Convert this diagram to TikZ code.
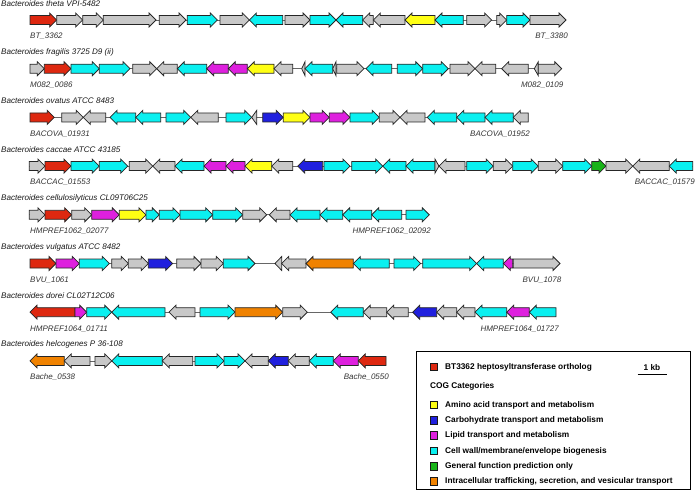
\documentclass[tikz,border=0pt]{standalone}
\usepackage{fontspec}
\setmainfont{Liberation Sans}
\definecolor{genered}{RGB}{222,40,16}
\definecolor{genegray}{RGB}{200,200,200}
\definecolor{genecyan}{RGB}{10,240,240}
\definecolor{geneyellow}{RGB}{255,255,20}
\definecolor{genemag}{RGB}{222,32,222}
\definecolor{geneblue}{RGB}{32,32,222}
\definecolor{genegreen}{RGB}{24,180,24}
\definecolor{geneorange}{RGB}{240,130,0}
% one gene arrow: row y, tail x, tip x, fill
\newcommand{\gene}[4]{%
  \pgfmathsetmacro{\gdir}{sign(#3-#2)}%
  \pgfmathsetmacro{\gneck}{#3-\gdir*min(7,abs(#3-#2))}%
  \filldraw[genebox, fill=#4] ({#2},{#1-4.5}) -- (\gneck,{#1-4.5}) -- (\gneck,{#1-7})
    -- ({#3},{#1}) -- (\gneck,{#1+7}) -- (\gneck,{#1+4.5}) -- ({#2},{#1+4.5}) -- cycle;}

\begin{document}
\begin{tikzpicture}[x=1pt, y=-1pt, font=\fontsize{8}{9.5}\selectfont,
    genebox/.style={draw=black!85, line join=miter, line width=0.75},
    spine/.style={draw=black!60, line width=0.7},
    strain/.style={anchor=west, inner sep=0, font=\fontsize{8.1}{9.5}\selectfont\itshape, text=black!90},
    locus/.style={inner sep=0, font=\fontsize{8}{9.5}\selectfont\itshape, text=black!80},
    keybox/.style={draw=black!90, line width=0.75, minimum size=7.5, inner sep=0},
    keytext/.style={anchor=west, inner sep=0, font=\fontsize{8.3}{9.5}\selectfont\bfseries}]
\useasboundingbox (0,0) rectangle (696,493);

% backbones
\coordinate (s1) at (30,20);    \coordinate (e1) at (566,20);
\coordinate (s2) at (30,68.7);  \coordinate (e2) at (561.7,68.7);
\coordinate (s3) at (30,117.4); \coordinate (e3) at (528.3,117.4);
\coordinate (s4) at (29.3,166.1); \coordinate (e4) at (692.7,166.1);
\coordinate (s5) at (29.3,214.8); \coordinate (e5) at (429.3,214.8);
\coordinate (s6) at (30,263.5); \coordinate (e6) at (560,263.5);
\coordinate (s7) at (30,312.2); \coordinate (e7) at (556,312.2);
\coordinate (s8) at (30,360.9); \coordinate (e8) at (386,360.9);
\foreach \i in {1,...,8} \draw[spine] (s\i) -- (e\i);

% B. theta
\node[strain] (t1) at (1,3.5) {Bacteroides theta VPI-5482};
\foreach \a/\b/\c in {30/56.7/genered, 56.7/82.7/genegray, 82.7/103.3/genegray, 103.3/156/genegray,
    159.3/186/genegray, 187.3/217.3/genecyan, 220/249.3/genegray, 282.7/249.3/genecyan, 285/310/genegray,
    310/336/genecyan, 362.7/336/genecyan, 373.3/362.7/genegray, 405/373.3/genegray, 435/405/geneyellow,
    463.3/435/genecyan, 466.7/491.7/genegray, 496.7/506.7/genegray, 506.7/530/genecyan, 530/566/genegray}
  \gene{20}{\a}{\b}{\c};
\node[locus, anchor=west] (a1) at (30,36.5) {BT\_3362};
\node[locus, anchor=east] (b1) at (568,36.5) {BT\_3380};

% B. fragilis
\node[strain] (t2) at (1,52.2) {Bacteroides fragilis 3725 D9 (ii)};
\foreach \a/\b/\c in {30/44.3/genegray, 44.3/71/genered, 71/99.3/genecyan, 99.3/130/genecyan,
    132.7/156.7/genegray, 177.3/156.7/genegray, 206.7/177.3/genecyan, 228.3/206.7/genemag,
    247.3/228.3/genemag, 274/247.3/geneyellow, 292.7/274/genegray, 305/301.7/genegray,
    332.7/305/genecyan, 336/332.7/genegray, 336.7/364/genegray, 391.7/366/genecyan,
    397.3/422.7/genecyan, 422.7/448.3/genecyan, 450/475/genegray, 495.7/475/genegray,
    528.3/501.7/genegray, 538.3/534.3/genegray, 538.3/561.7/genegray}
  \gene{68.7}{\a}{\b}{\c};
\node[locus, anchor=west] (a2) at (30,85.2) {M082\_0086};
\node[locus, anchor=east] (b2) at (563.5,85.2) {M082\_0109};

% B. ovatus
\node[strain] (t3) at (1,100.9) {Bacteroides ovatus ATCC 8483};
\foreach \a/\b/\c in {30/54.3/genered, 61.7/83.3/genegray, 105.7/83.3/genegray, 135.7/110/genecyan,
    160.7/135.7/genecyan, 166/190.7/genecyan, 218.3/190.7/genegray, 226/251.7/genecyan,
    256.7/251.7/genegray, 262.7/283.3/geneblue, 283.3/310/geneyellow, 310/329.3/genemag,
    329.3/350/genemag, 350/379.3/genecyan, 379.3/400/genegray, 425/400/genegray,
    456.7/427.3/genecyan, 485/456.7/genecyan, 513.3/485/genecyan, 528.3/513.3/genegray}
  \gene{117.4}{\a}{\b}{\c};
\node[locus, anchor=west] (a3) at (30,133.9) {BACOVA\_01931};
\node[locus, anchor=east] (b3) at (530,133.9) {BACOVA\_01952};

% B. caccae
\node[strain] (t4) at (1,149.6) {Bacteroides caccae ATCC 43185};
\foreach \a/\b/\c in {29.3/45/genegray, 45/71/genered, 71/99.3/genecyan, 99.3/127.7/genecyan,
    129.3/152.7/genegray, 175/152.7/genegray, 204/175/genecyan, 226/204/genemag, 245/226/genemag,
    271.7/245/geneyellow, 292.7/271.7/genegray, 322.7/297.7/geneblue, 324/350/genecyan,
    351.7/382.7/genecyan, 406/382.7/genecyan, 435/406/genecyan, 435/439/genegray, 465/439/genegray,
    466.7/493.3/genecyan, 493.3/512.7/genegray, 512.7/538.3/genecyan, 538.3/562.7/genegray,
    562.7/591.7/genecyan, 591.7/606/genegreen, 606/632.7/genegray, 669.3/632.7/genegray,
    692.7/669.3/genecyan}
  \gene{166.1}{\a}{\b}{\c};
\node[locus, anchor=west] (a4) at (30,182.6) {BACCAC\_01553};
\node[locus, anchor=east] (b4) at (695,182.6) {BACCAC\_01579};

% B. cellulosilyticus
\node[strain] (t5) at (1,198.3) {Bacteroides cellulosilyticus CL09T06C25};
\foreach \a/\b/\c in {29.3/45/genegray, 45/71.7/genered, 71.7/91.7/genegray, 91.7/119.3/genemag,
    119.3/146/geneyellow, 146/159.3/genecyan, 159.3/180/genecyan, 180/212.7/genecyan,
    212.7/242.7/genecyan, 242.7/266.7/genegray, 290/269.3/genegray, 320/290/genecyan,
    342.7/320/genecyan, 371.7/342.7/genecyan, 401.7/371.7/genecyan, 406/429.3/genecyan}
  \gene{214.8}{\a}{\b}{\c};
\node[locus, anchor=west] (a5) at (30,231.3) {HMPREF1062\_02077};
\node[locus, anchor=east] (b5) at (431,231.3) {HMPREF1062\_02092};

% B. vulgatus
\node[strain] (t6) at (1,247) {Bacteroides vulgatus ATCC 8482};
\foreach \a/\b/\c in {30/56/genered, 56/79.3/genemag, 79.3/109.3/genecyan, 111.7/128.3/genegray,
    128.3/148.3/genegray, 148.3/172.7/geneblue, 176.7/201/genegray, 201/223.3/genegray,
    223.3/255/genecyan, 281.7/275/genegray, 306/281.7/genegray, 353.3/306/geneorange,
    389.3/353.3/genecyan, 394/420.7/genecyan, 422.7/476.7/genecyan, 503.3/476.7/genecyan,
    512.7/503.3/genemag, 513.3/560/genegray}
  \gene{263.5}{\a}{\b}{\c};
\node[locus, anchor=west] (a6) at (30,280) {BVU\_1061};
\node[locus, anchor=east] (b6) at (561.5,280) {BVU\_1078};

% B. dorei
\node[strain] (t7) at (1,295.7) {Bacteroides dorei CL02T12C06};
\foreach \a/\b/\c in {75/30/genered, 75/86.7/genemag, 86.7/111.7/genecyan, 165/111.7/genecyan,
    195/169/genegray, 200/235/genecyan, 235/282.7/geneorange, 282.7/307.3/genegray,
    363.3/330.7/genecyan, 386.7/363.3/genegray, 408.3/386.7/genegray, 436.7/412.7/geneblue,
    456.7/436.7/genegray, 475/456.7/genegray, 506.7/475/genecyan, 529.3/506.7/genemag,
    556/529.3/genecyan}
  \gene{312.2}{\a}{\b}{\c};
\node[locus, anchor=west] (a7) at (30,328.7) {HMPREF1064\_01711};
\node[locus, anchor=east] (b7) at (559,328.7) {HMPREF1064\_01727};

% B. helcogenes
\node[strain] (t8) at (1,344.4) {Bacteroides helcogenes P 36-108};
\foreach \a/\b/\c in {64.3/30/geneorange, 90/64.3/genegray, 95/111.7/genegray, 162.3/111.7/genecyan,
    192.7/162.3/genegray, 195/224/genecyan, 224/245/genecyan, 268.3/245/genegray,
    288.3/268.3/geneblue, 309.3/288.3/genegray, 333.3/309.3/genecyan, 358.3/333.3/genemag,
    386/358.3/genered}
  \gene{360.9}{\a}{\b}{\c};
\node[locus, anchor=west] (a8) at (30,377.4) {Bache\_0538};
\node[locus, anchor=east] (b8) at (389,377.4) {Bache\_0550};

% legend
\draw[line width=0.8] (416.7,351) rectangle (690,489);
\node[keybox, fill=genered] (k0) at (434,367) {};
\node[keytext] (k0t) at (445,367) {BT3362 heptosyltransferase ortholog};
\node[keytext, anchor=south] (kb) at (652,371) {1 kb};
\coordinate (kb0) at (637.7,374.5); \coordinate (kb1) at (666.7,374.5);
\draw[line width=1.8] (kb0) -- (kb1);
\node[keytext] (cog) at (430,386) {COG Categories};
\foreach \c/\t [count=\i] in {geneyellow/{Amino acid transport and metabolism},
    geneblue/{Carbohydrate transport and metabolism},
    genemag/{Lipid transport and metabolism},
    genecyan/{Cell wall/membrane/envelope biogenesis},
    genegreen/{General function prediction only},
    geneorange/{Intracellular trafficking, secretion, and vesicular transport}} {
  \node[keybox, fill=\c] (k\i) at (434,{389.7+15.3*\i}) {};
  \node[keytext] (k\i t) at (445,{389.7+15.3*\i}) {\t};
}
\end{tikzpicture}
\end{document}
